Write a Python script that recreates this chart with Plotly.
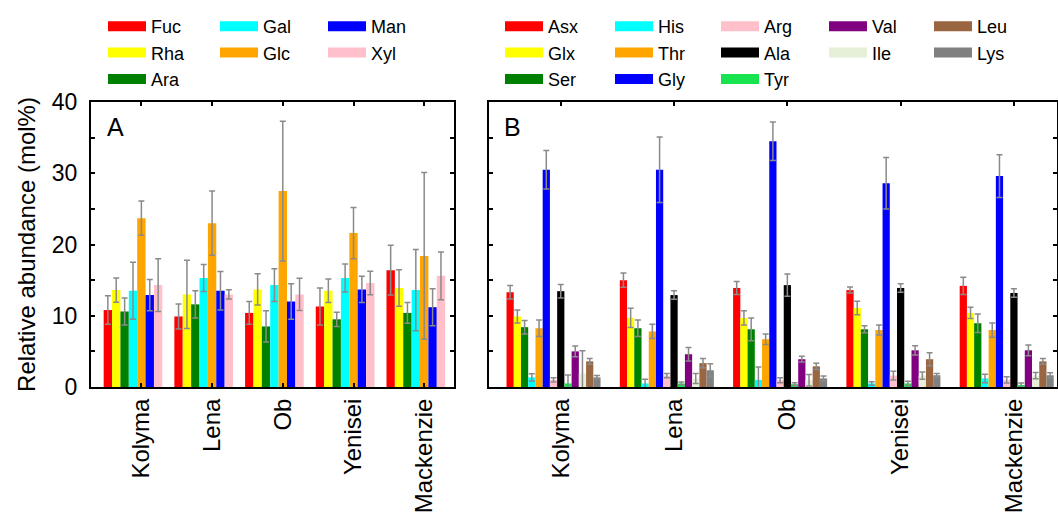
import numpy as np
import plotly.graph_objects as go
from plotly.subplots import make_subplots

# ---------------- data ----------------
rivers = ["Kolyma", "Lena", "Ob", "Yenisei", "Mackenzie"]

# Panel A: neutral sugars (mol%)
sugar_names = ["Fuc", "Rha", "Ara", "Gal", "Glc", "Man", "Xyl"]
fuc = [10.8, 9.9, 10.4, 11.3, 16.4]
rha = [13.6, 13.0, 13.7, 13.5, 13.9]
ara = [10.6, 11.6, 8.5, 9.5, 10.4]
gal = [13.5, 15.3, 14.3, 15.3, 13.6]
glc = [23.7, 23.0, 27.5, 21.6, 18.4]
man = [12.9, 13.5, 12.0, 13.7, 11.2]
xyl = [14.3, 13.0, 13.0, 14.6, 15.6]
fuc_err = [2.0, 1.75, 1.6, 2.6, 3.5]
rha_err = [1.7, 4.8, 2.2, 1.65, 2.55]
ara_err = [1.9, 1.9, 2.2, 1.0, 1.45]
gal_err = [4.0, 1.9, 2.3, 1.95, 5.7]
glc_err = [2.4, 4.5, 9.8, 3.6, 11.7]
man_err = [2.2, 2.7, 2.5, 1.85, 2.6]
xyl_err = [3.7, 0.65, 2.25, 1.65, 3.35]

# Panel B: amino acids (mol%)
aa_names = ["Asx", "Glx", "Ser", "His", "Thr", "Gly", "Arg", "Ala", "Tyr", "Val", "Ile", "Leu", "Lys"]
asx = [13.3, 15.0, 13.9, 13.6, 14.2]
glx = [9.9, 9.7, 9.7, 11.1, 10.4]
ser = [8.4, 8.25, 8.1, 8.1, 8.95]
his = [1.35, 0.5, 1.0, 0.5, 1.2]
thr = [8.25, 7.8, 6.7, 8.0, 8.0]
gly = [30.5, 30.5, 34.5, 28.6, 29.6]
arg = [1.0, 1.6, 0.95, 1.6, 1.0]
ala = [13.45, 12.9, 14.3, 13.9, 13.2]
tyr = [0.5, 0.5, 0.4, 0.5, 0.25]
val = [5.0, 4.6, 3.9, 5.15, 5.15]
ile = [1.9, 1.2, 0.95, 1.6, 1.6]
leu = [3.6, 3.35, 2.9, 3.9, 3.6]
lys = [1.35, 2.35, 1.2, 1.65, 1.65]
asx_err = [0.95, 1.0, 0.9, 0.42, 1.2]
glx_err = [0.9, 1.35, 1.0, 0.95, 0.8]
ser_err = [0.95, 1.15, 1.6, 0.5, 1.3]
his_err = [0.5, 0.6, 1.8, 0.25, 0.6]
thr_err = [1.15, 1.0, 0.75, 0.7, 1.0]
gly_err = [2.7, 4.6, 2.7, 3.6, 3.0]
arg_err = [0.3, 0.3, 0.35, 0.6, 0.45]
ala_err = [0.95, 0.6, 1.55, 0.6, 0.6]
tyr_err = [1.2, 0.2, 0.2, 0.3, 0.3]
val_err = [0.75, 0.95, 0.4, 0.65, 0.75]
ile_err = [3.2, 0.7, 0.8, 0.5, 0.45]
leu_err = [0.4, 0.65, 0.45, 0.9, 0.4]
lys_err = [0.25, 0.9, 0.35, 0.25, 0.35]

y_ticks = [0, 10, 20, 30, 40]

sugar_vals = [fuc, rha, ara, gal, glc, man, xyl]
sugar_errs = [fuc_err, rha_err, ara_err, gal_err, glc_err, man_err, xyl_err]
aa_vals = [asx, glx, ser, his, thr, gly, arg, ala, tyr, val, ile, leu, lys]
aa_errs = [asx_err, glx_err, ser_err, his_err, thr_err, gly_err, arg_err, ala_err,
           tyr_err, val_err, ile_err, leu_err, lys_err]

# ---------------- styles ----------------
sugar_colors = ["#FF0000", "#FFFF00", "#008000", "#00FFFF", "#FFA500", "#0000FF", "#FFC0CB"]
aa_colors = ["#FF0000", "#FFFF00", "#008000", "#00FFFF", "#FFA500", "#0000FF", "#FFC0CB",
             "#000000", "#18E44F", "#800080", "#E6F0D9", "#9A6641", "#808080"]

FONT = "Liberation Sans, Arial, sans-serif"
W, H = 1058, 517
ML, MR, MT, MB = 91, 1, 102, 130
PW, PH = W - ML - MR, H - MT - MB
BARGAP = 0.17


def px_x(px):
    return (px - ML) / PW


def px_y(py):
    return (H - MB - py) / PH


fig = make_subplots(rows=1, cols=2, horizontal_spacing=0.0)
fig.update_layout(
    xaxis=dict(domain=[0, px_x(454)]),
    xaxis2=dict(domain=[px_x(488.5), 1.0]),
)

err_color = "#8A8A8A"
x_idx = np.arange(len(rivers))


def col_assign(n, ncol):
    base, extra = divmod(n, ncol)
    cols = []
    for c in range(ncol):
        cols += [c] * (base + (1 if c < extra else 0))
    return cols


def add_panel(names, vals, errs, colors, col, legend_ids):
    cols = col_assign(len(names), len(legend_ids))
    for i, (nm, v, e, c) in enumerate(zip(names, vals, errs, colors)):
        fig.add_trace(go.Bar(
            x=x_idx, y=v, name=nm, marker=dict(color=c, line=dict(width=0)),
            error_y=dict(type="data", array=e, color=err_color, thickness=1.5, width=3),
            showlegend=False, offsetgroup=str(i),
        ), row=1, col=col)
        # legend swatch entry
        fig.add_trace(go.Scatter(
            x=[None], y=[None], mode="lines", name=nm,
            line=dict(color=c, width=14),
            legend=legend_ids[cols[i]], legendgroup=nm, showlegend=True,
        ), row=1, col=col)


legA = ["legend", "legend2", "legend3"]
legB = ["legend4", "legend5", "legend6", "legend7", "legend8"]
add_panel(sugar_names, sugar_vals, sugar_errs, sugar_colors, 1, legA)
add_panel(aa_names, aa_vals, aa_errs, aa_colors, 2, legB)

legend_font = dict(family=FONT, size=18, color="#000000")
leg_common = dict(orientation="v", xanchor="left", yanchor="top", y=px_y(8),
                  font=legend_font, bgcolor="rgba(0,0,0,0)", borderwidth=0,
                  tracegroupgap=0, itemwidth=38, itemclick=False, itemdoubleclick=False)
A_cols_px = [107, 219, 327]
B_cols_px = [504, 614, 720, 828, 933]
legends = {}
for lid, cx in zip(legA + legB, A_cols_px + B_cols_px):
    legends[lid] = dict(leg_common, x=px_x(cx - 4))
fig.update_layout(**legends)

# group geometry: tick placed one bar-width right of group centre
offA = (1 - BARGAP) / len(sugar_names)
offB = (1 - BARGAP) / len(aa_names)

axis_common = dict(showline=True, linewidth=2, linecolor="#000000", mirror="allticks",
                   ticks="inside", ticklen=4, tickwidth=1.5, tickcolor="#000000",
                   showgrid=False, zeroline=False)
tick_font = dict(family=FONT, size=23, color="#000000")
xtick_font = dict(family=FONT, size=24, color="#000000")

fig.update_xaxes(axis_common, tickmode="array", ticktext=rivers, tickangle=-90,
                 tickfont=xtick_font)
fig.update_xaxes(range=[-0.594, 4.54], tickvals=list(x_idx + offA), row=1, col=1)
fig.update_xaxes(range=[-0.574, 4.444], tickvals=list(x_idx + offB), row=1, col=2)

yv = list(range(0, 41, 5))
yt = [str(v) if v in y_ticks else "" for v in yv]
fig.update_yaxes(axis_common, range=[0, 40], tickmode="array", tickvals=yv, ticktext=yt,
                 tickfont=tick_font)
fig.update_yaxes(ticklabelstandoff=7,
                 title=dict(text="Relative abundance (mol%)", font=dict(family=FONT, size=24),
                            standoff=9), row=1, col=1)
fig.update_yaxes(showticklabels=False, row=1, col=2)

for txt, px in (("A", 105), ("B", 502)):
    fig.add_annotation(text=txt, xref="paper", yref="paper", x=px_x(px), y=px_y(111),
                       xanchor="left", yanchor="top", showarrow=False,
                       font=dict(family=FONT, size=25, color="#000000"))

fig.update_layout(
    width=W, height=H, barmode="group", bargap=BARGAP, bargroupgap=0,
    margin=dict(l=ML, r=MR, t=MT, b=MB, autoexpand=False),
    plot_bgcolor="#FFFFFF", paper_bgcolor="#FFFFFF",
    font=dict(family=FONT, color="#000000"),
)

fig.write_html("out.html", config={"displayModeBar": False},
               post_script="document.body.style.margin='0px';")
